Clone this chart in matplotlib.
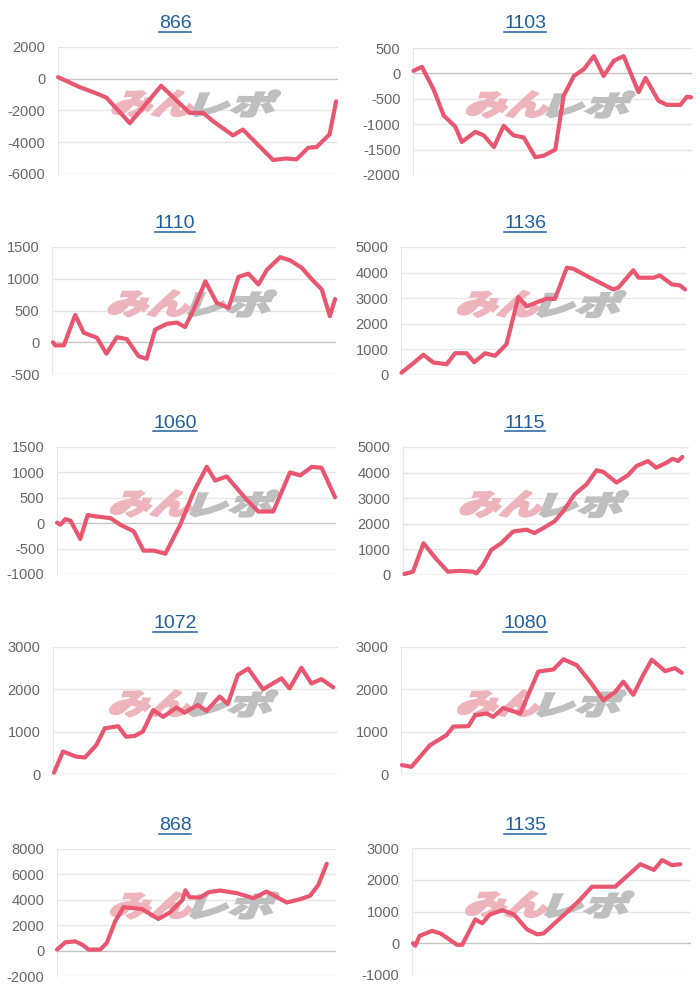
"""Ten small profit curves in a 5x2 grid, drawn in the chart.js look."""

import matplotlib
matplotlib.use("Agg")
import matplotlib.pyplot as plt
from matplotlib.font_manager import FontProperties
from matplotlib.lines import Line2D
from matplotlib.patches import PathPatch
from matplotlib.textpath import TextPath
from matplotlib.transforms import Affine2D

plt.rcParams["font.family"] = ["Liberation Sans", "DejaVu Sans"]

W, H = 700, 1000
LINE = "#e9566f"
LINK = "#1f5f9e"
TICK = "#666666"
GRID = "#e6e6e6"
ZERO = "#c4c4c4"

titles = ["866", "1103", "1110", "1136", "1060", "1115", "1072", "1080", "868", "1135"]

d_866 = [0, 4.6, 8.9, 10.4, 15.4, 22.1, 28.2, 31.1, 33.2, 37.5, 39.6, 46.1, 48.9,
         51.1, 53.6, 55.4, 58.2, 59.6]
v_866 = [100, -520, -1000, -1200, -2800, -440, -2150, -2150, -2670, -3570, -3200,
         -5120, -5020, -5080, -4350, -4300, -3500, -1420]

d_1103 = [0.1, 1.9, 4.4, 6.6, 9.1, 10.5, 13.4, 15.2, 17.4, 19.5, 21.6, 23.8, 26.3,
          28.1, 30.6, 32.4, 34.6, 36.7, 38.9, 41.0, 43.2, 45.3, 48.5, 50.0, 52.8,
          54.6, 57.5, 58.9, 59.8]
v_1103 = [50, 130, -310, -830, -1050, -1350, -1150, -1220, -1450, -1030, -1220,
          -1260, -1650, -1620, -1500, -440, -50, 80, 340, -50, 250, 340, -370, -90,
          -540, -620, -620, -460, -470]

d_1110 = [0.2, 0.7, 2.5, 4.9, 6.7, 9.5, 11.5, 13.7, 15.8, 18.3, 20.0, 21.8, 24.3,
          26.4, 28.1, 29.9, 32.4, 34.8, 37.3, 39.4, 41.5, 43.6, 45.4, 48.2, 50.3,
          52.8, 54.9, 57.0, 58.7, 59.8]
v_1110 = [0, -50, -50, 430, 150, 70, -180, 80, 50, -220, -260, 200, 290, 310, 240,
          510, 960, 620, 540, 1030, 1080, 910, 1140, 1340, 1290, 1170, 990, 830, 410,
          680]

d_1136 = [0.1, 2.6, 4.7, 6.8, 9.6, 11.4, 13.8, 15.4, 17.7, 19.8, 22.2, 24.7, 26.5,
          28.6, 30.7, 32.4, 34.9, 36.3, 39.8, 44.7, 45.8, 48.9, 50.0, 53.1, 54.5,
          57.0, 58.7, 59.8]
v_1136 = [90, 460, 790, 490, 420, 850, 850, 500, 850, 750, 1200, 3040, 2680, 2840,
          2980, 2970, 4190, 4150, 3800, 3340, 3420, 4090, 3800, 3800, 3890, 3540,
          3500, 3340]

d_1060 = [0, 0.7, 1.8, 2.9, 5.0, 6.6, 8.6, 11.5, 13.6, 16.5, 18.6, 20.8, 23.3, 26.5,
          29.4, 32.2, 34.0, 36.5, 40.8, 43.3, 46.5, 50.1, 52.3, 54.8, 56.9, 59.8]
v_1060 = [10, -30, 80, 50, -310, 160, 130, 100, -30, -160, -540, -540, -600, -30,
          620, 1110, 840, 920, 460, 230, 230, 1000, 940, 1110, 1090, 510]

d_1115 = [0.3, 2.1, 4.3, 7.0, 9.4, 11.9, 14.7, 15.4, 16.8, 18.5, 20.6, 23.1, 25.9,
          27.6, 29.4, 31.8, 33.6, 36.0, 38.5, 40.6, 42.0, 44.8, 47.2, 49.0, 51.4,
          53.1, 55.2, 56.6, 57.7, 58.6]
v_1115 = [40, 130, 1240, 620, 130, 160, 130, 60, 390, 980, 1240, 1700, 1770, 1640,
          1830, 2100, 2490, 3150, 3540, 4090, 4030, 3610, 3900, 4260, 4450, 4190,
          4380, 4540, 4450, 4610]

d_1072 = [0.2, 2.1, 4.9, 6.7, 9.1, 10.9, 13.7, 15.4, 17.2, 18.9, 21.1, 23.2, 26.0,
          27.7, 30.5, 32.3, 35.1, 36.8, 38.9, 41.1, 44.2, 48.1, 49.8, 52.3, 54.4,
          56.5, 59.0]
v_1072 = [30, 530, 410, 390, 680, 1080, 1130, 880, 900, 1000, 1510, 1350, 1570,
          1450, 1630, 1490, 1830, 1650, 2340, 2490, 2000, 2260, 2020, 2510, 2140,
          2240, 2050]

d_1080 = [0.2, 1.2, 2.2, 6.1, 9.6, 11.0, 14.2, 15.6, 18.0, 19.4, 21.5, 25.1, 28.9,
          32.1, 34.2, 37.0, 39.8, 42.6, 45.1, 46.8, 48.9, 51.0, 52.8, 55.6, 57.7,
          59.1]
v_1080 = [210, 190, 170, 680, 920, 1120, 1130, 1390, 1430, 1350, 1560, 1430, 2420,
          2470, 2710, 2570, 2180, 1740, 1940, 2180, 1870, 2340, 2700, 2430, 2500,
          2390]

d_868 = [0, 1.8, 3.9, 5.4, 6.8, 9.3, 10.7, 12.5, 14.3, 18.3, 21.8, 24.3, 27.0, 27.6,
         28.5, 30.8, 32.6, 35.1, 38.7, 42.2, 45.1, 49.4, 52.3, 54.4, 56.2, 58.0]
v_868 = [80, 650, 730, 470, 80, 80, 600, 2300, 3420, 3270, 2490, 3010, 4000, 4750,
         4200, 4180, 4600, 4730, 4520, 4130, 4650, 3790, 4050, 4310, 5180, 6830]

d_1135 = [0.2, 0.7, 1.6, 4.3, 6.1, 9.7, 10.8, 13.6, 15.1, 16.8, 19.4, 21.9, 24.7,
          26.9, 28.3, 31.2, 34.0, 36.2, 38.7, 41.2, 43.7, 46.2, 49.1, 52.0, 53.8,
          55.9, 57.7]
v_1135 = [0, -80, 230, 390, 310, -50, -50, 750, 630, 910, 1040, 910, 440, 280, 310,
          700, 1070, 1380, 1780, 1780, 1780, 2110, 2490, 2310, 2620, 2460, 2490]

series = [(d_866, v_866), (d_1103, v_1103), (d_1110, v_1110), (d_1136, v_1136),
          (d_1060, v_1060), (d_1115, v_1115), (d_1072, v_1072), (d_1080, v_1080),
          (d_868, v_868), (d_1135, v_1135)]

yticks = [
    [-6000, -4000, -2000, 0, 2000],
    [-2000, -1500, -1000, -500, 0, 500],
    [-500, 0, 500, 1000, 1500],
    [0, 1000, 2000, 3000, 4000, 5000],
    [-1000, -500, 0, 500, 1000, 1500],
    [0, 1000, 2000, 3000, 4000, 5000],
    [0, 1000, 2000, 3000],
    [0, 1000, 2000, 3000],
    [-2000, 0, 2000, 4000, 6000, 8000],
    [-1000, 0, 1000, 2000, 3000],
]

# plot areas in image pixels: left, top, right, bottom
rects = [
    (58, 47, 338, 174), (413, 48, 692, 175),
    (52, 247, 336, 374), (401, 247, 686, 375),
    (57, 447, 336, 574), (403, 447, 689, 575),
    (53, 647, 338, 774), (401, 647, 686, 774),
    (57, 849, 336, 976), (412, 848, 691, 975),
]
title_y = [24, 24, 224, 224, 424, 424, 624, 624, 826, 826]


def watermark(ax):
    # heavy slanted "みんレポ" logo behind the line
    bb = ax.get_position()
    cx = (bb.x0 + bb.x1) / 2 * W - 3
    cy = (bb.y0 + bb.y1) / 2 * H + 7
    fp = FontProperties(family="Noto Sans CJK JP", weight="heavy")
    for text, color, dx in (("みん", "#edb5bb", -40), ("レポ", "#bfbfbf", 41)):
        tp = TextPath((0, 0), text, size=30, prop=fp)
        ext = tp.get_extents()
        tr = (Affine2D()
              .translate(-ext.x0 - ext.width / 2, -ext.y0 - ext.height / 2)
              .scale(80 / ext.width, 26 / ext.height)
              .skew_deg(22, 0)
              .translate(cx + dx, cy))
        ax.add_artist(PathPatch(tp, transform=tr, fc=color, ec=color, lw=1.6,
                                joinstyle="miter", zorder=1.5))


fig = plt.figure(figsize=(W / 100, H / 100), dpi=100)
title_texts = []
for i, (days, vals) in enumerate(series):
    l, t, r, b = rects[i]
    ax = fig.add_axes([l / W, 1 - b / H, (r - l) / W, (b - t) / H])
    ax.plot(days, vals, color=LINE, lw=3, solid_joinstyle="round",
            solid_capstyle="round", zorder=3, clip_on=False)
    ax.set_xlim(0, 60)
    ax.set_ylim(yticks[i][0], yticks[i][-1])
    ax.set_yticks(yticks[i])
    ax.set_yticklabels([str(v) for v in yticks[i]])
    ax.set_xticks([])
    for v in yticks[i]:
        ax.axhline(v, color=ZERO if v == 0 else GRID, lw=1, zorder=1)
    for side in ("top", "right", "bottom"):
        ax.spines[side].set_visible(False)
    ax.spines["left"].set_color(GRID)
    ax.tick_params(axis="y", length=0, pad=9, labelsize=10.5, labelcolor=TICK)
    watermark(ax)
    cx = 175 if i % 2 == 0 else 525
    title_texts.append(fig.text(cx / W, 1 - title_y[i] / H, titles[i],
                                color=LINK, fontsize=14, ha="center", va="center"))

fig.canvas.draw()
renderer = fig.canvas.get_renderer()
for t in title_texts:
    ext = t.get_window_extent(renderer)
    y = (ext.y0 + 1) / H
    fig.add_artist(Line2D([ext.x0 / W, ext.x1 / W], [y, y], color=LINK, lw=1.1))

fig.savefig("out.png", dpi=100, facecolor="white")
